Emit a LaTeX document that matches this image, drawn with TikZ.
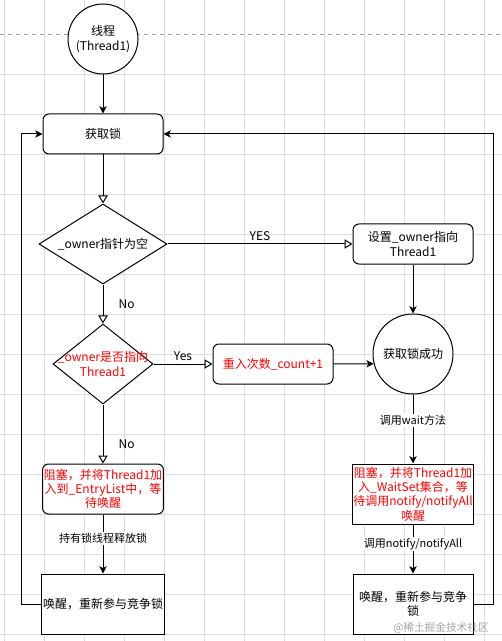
\documentclass[tikz,border=0pt]{standalone}
\usepackage{fontspec}
\setmainfont{Noto Sans CJK SC}
\usetikzlibrary{arrows.meta,shapes.geometric,positioning}

\begin{document}
\begin{tikzpicture}[x=0.75pt, y=-0.75pt, line width=0.75pt,
	>={Stealth[length=5.5pt,width=5.5pt,inset=1.5pt]},
	every node/.style={font=\fontsize{9}{10.7}\selectfont},
	gridline/.style={draw=black!13, line width=0.5pt},
	lockbox/.style={draw, rounded corners=4.5pt, minimum width=90pt, minimum height=30pt, align=center, inner sep=1pt},
	plainbox/.style={draw, minimum width=90pt, minimum height=45pt, align=center, inner sep=1pt},
	decision/.style={draw, diamond, inner sep=0pt},
	state/.style={draw, circle, inner sep=0pt, align=center},
	openarr/.style={-{Triangle[length=6pt,width=7pt,fill=white]}},
	edgelabel/.style={font=\fontsize{8.25}{10}\selectfont, fill=white, inner sep=1pt},
	redtext/.style={text=red}]

	\useasboundingbox[fill=white] (0,0) rectangle (502,641);

	% grid
	\foreach \gx in {4,44,...,484}
	\draw [gridline] (\gx,0) -- (\gx,641);
	\foreach \gy in {74,114,...,634}
	\draw [gridline] (0,\gy) -- (502,\gy);
	\draw [black!35, dashed, line width=0.5pt] (0,34) -- (502,34);

	% nodes
	\node [state, fill=white, minimum size=52.5pt] (thread) at (103,39) {线程\\(Thread1)};
	\node [lockbox, fill=white] (lock) at (103,134) {获取锁};
	\node [decision, fill=white, minimum width=96pt, minimum height=60pt,
		label={center:\_owner指针为空}] (owner-null) at (103,244) {};
	\node [lockbox, fill=white] (set-owner) at (413,244) {设置\_owner指向\\Thread1};
	\node [decision, fill=white, minimum width=75pt, minimum height=60pt,
		label={[redtext, align=center]center:\_owner是否指向\\Thread1}] (owner-self) at (103,364) {};
	\node [lockbox, fill=white, redtext] (reenter) at (273,364) {重入次数\_count+1};
	\node [state, fill=white, minimum size=60pt] (success) at (413,354) {获取锁成功};
	\node [lockbox, fill=white, redtext, minimum height=37.5pt] (entry) at (103,489)
		{阻塞，并将Thread1加\\入到\_EntryList中，等\\待唤醒};
	\node [plainbox, fill=white, redtext] (waitset) at (413,494)
		{阻塞，并将Thread1加\\入\_WaitSet集合，等\\待调用notify/notifyAll\\唤醒};
	\node [plainbox, fill=white] (wake-entry) at (103,604) {唤醒，重新参与竞争锁};
	\node [plainbox, fill=white] (wake-wait) at (413,604) {唤醒，重新参与竞争\\锁};

	% connectors
	\draw [->] (thread) -- (lock);
	\draw [openarr] (lock) -- (owner-null);
	\draw [openarr] (owner-null) -- (set-owner)
	node [above, midway, inner sep=2pt] {YES};
	\draw [openarr] (owner-null) -- (owner-self)
	node [right, midway, xshift=8pt] {No};
	\draw [openarr] (owner-self) -- (reenter)
	node [above, midway, inner sep=2pt] {Yes};
	\draw [openarr] (owner-self) -- (entry)
	node [right, pos=0.67, xshift=8pt] {No};
	\draw [->] (set-owner) -- (success);
	\draw [->] (reenter.east) -- (success.194.5);
	\draw [->] (success) -- (waitset)
	node [edgelabel, pos=0.38] {调用wait方法};
	\draw [->] (waitset) -- (wake-wait)
	node [edgelabel, pos=0.4] {调用notify/notifyAll};
	\draw [->] (entry) -- (wake-entry)
	node [edgelabel, pos=0.4] {持有锁线程释放锁};
	\draw [->] (wake-entry.west) -- ++(-20,0) |- (lock.west);
	\draw [->] (wake-wait.east) -- ++(20,0) |- (lock.east);

	% watermark
	\node [text=black!35, font=\fontsize{8}{9}\selectfont] (mark) at (441,628) {@稀土掘金技术社区};

\end{tikzpicture}
\end{document}
